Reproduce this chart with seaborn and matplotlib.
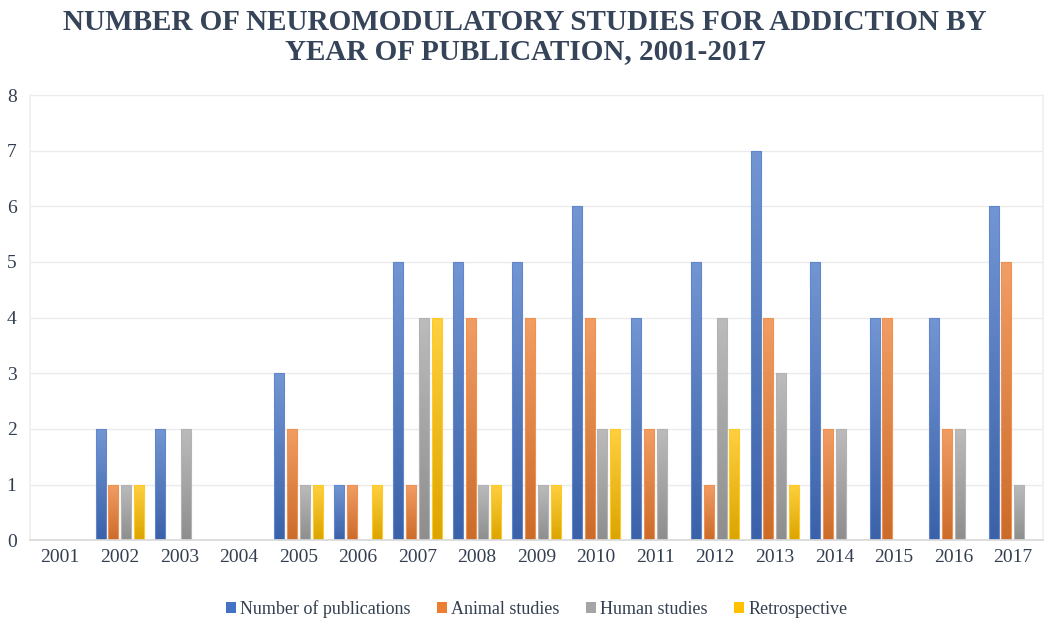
import matplotlib.pyplot as plt
import matplotlib.colors as mcolors
import seaborn as sns
import pandas as pd
import numpy as np

years = [str(y) for y in range(2001, 2018)]
series = ['Number of publications', 'Animal studies', 'Human studies', 'Retrospective']
publications = [0, 2, 2, 0, 3, 1, 5, 5, 5, 6, 4, 5, 7, 5, 4, 4, 6]
animal = [0, 1, 0, 0, 2, 1, 1, 4, 4, 4, 2, 1, 4, 2, 4, 2, 5]
human = [0, 1, 2, 0, 1, 0, 4, 1, 1, 2, 2, 4, 3, 2, 0, 2, 1]
retro = [0, 1, 0, 0, 1, 1, 4, 1, 1, 2, 0, 2, 1, 0, 0, 0, 0]
colors = ['#4472C4', '#ED7D31', '#A5A5A5', '#FFC000']

records = []
for name, vals in zip(series, [publications, animal, human, retro]):
    for y, v in zip(years, vals):
        records.append([y, name, v])
df = pd.DataFrame(records, columns=['year', 'series', 'count'])

sns.set_theme(style='white')
plt.rcParams['font.family'] = ['Liberation Serif', 'DejaVu Serif']
text_color = '#333F50'

fig = plt.figure(figsize=(10.5, 6.21), dpi=100)
ax = fig.add_axes([0.029, 0.13, 0.964, 0.717])

sns.barplot(data=df, x='year', y='count', hue='series', hue_order=series,
            palette=colors, saturation=1, width=0.86, ax=ax, linewidth=0,
            legend=True)

# narrower bars with gaps, gradient fill (lighter at top)
for patch in list(ax.patches):
    h = patch.get_height()
    if h <= 0 or np.isnan(h):
        continue
    w = patch.get_width()
    cx = patch.get_x() + w / 2
    w = w * 0.78
    patch.set_x(cx - w / 2)
    patch.set_width(w)
    base = np.array(mcolors.to_rgb(patch.get_facecolor()))
    top = base + (1 - base) * 0.25
    bottom = base * 0.86
    grad = np.linspace(0, 1, 64)[:, None]
    img = bottom[None, None, :] * (1 - grad[..., None]) + top[None, None, :] * grad[..., None]
    x0, y0 = patch.get_x(), patch.get_y()
    im = ax.imshow(img, extent=[x0, x0 + w, y0, y0 + h], origin='lower',
                   aspect='auto', zorder=patch.get_zorder() + 0.1)
    im.set_clip_path(patch)
    patch.set_edgecolor(tuple(base + (1 - base) * 0.15))
    patch.set_linewidth(0.8)
    patch.set_facecolor('none')
    patch.set_zorder(patch.get_zorder() + 0.2)

ax.set_xlim(-0.5, len(years) - 0.5)
ax.set_ylim(0, 8)
ax.set_yticks(range(0, 9))
ax.grid(axis='y', color='#EBEBEB', linewidth=1)
ax.set_axisbelow(True)
ax.spines['top'].set_visible(False)
for s in ['left', 'right']:
    ax.spines[s].set_color('#F0F0F0')
ax.spines['bottom'].set_color('#D9D9D9')
ax.set_xlabel('')
ax.set_ylabel('')
ax.tick_params(axis='x', labelsize=14, colors=text_color, pad=6, length=0)
ax.tick_params(axis='y', labelsize=14, colors=text_color, pad=10, length=0)

ax.legend(loc='upper center', bbox_to_anchor=(0.5, -0.097), ncol=4, frameon=False,
          fontsize=13, handlelength=0.55, handleheight=0.55, handletextpad=0.25,
          columnspacing=1.45, labelcolor=text_color)

fig.suptitle('NUMBER OF NEUROMODULATORY STUDIES FOR ADDICTION BY\nYEAR OF PUBLICATION, 2001-2017',
             x=0.5, y=0.985, fontsize=21, fontweight='bold', color='#36445A',
             linespacing=1.1)

plt.savefig('out.png', dpi=100)
